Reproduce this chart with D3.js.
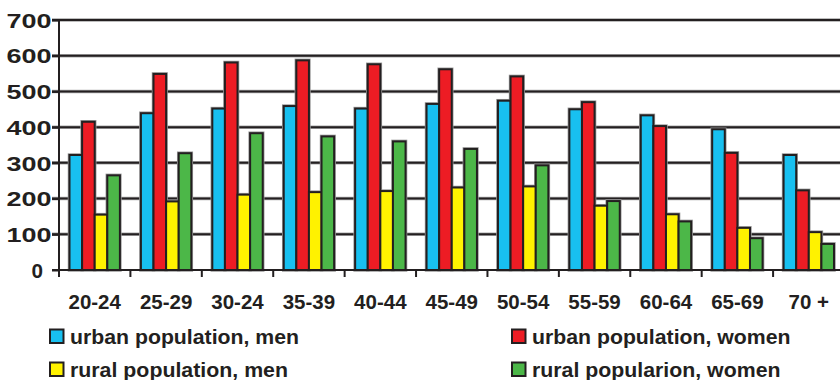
<!DOCTYPE html>
<html>
<head>
<meta charset="utf-8">
<script src="https://cdn.jsdelivr.net/npm/d3@7"></script>
<style>
  html, body { margin: 0; padding: 0; background: #fff; }
  svg { display: block; }
  text { font-family: "Liberation Sans", Arial, sans-serif; font-weight: bold; fill: #231f20; }
</style>
</head>
<body>
<svg id="chart" width="840" height="380"></svg>
<script>
// Age groups along the x axis
const ageGroups = ["20-24", "25-29", "30-24", "35-39", "40-44", "45-49", "50-54", "55-59", "60-64", "65-69", "70 +"];

// Population by age group (thousands)
const urbanMen   = [322, 439, 452, 459, 452, 465, 474, 450, 433, 394, 322];
const urbanWomen = [415, 549, 581, 587, 576, 562, 542, 470, 403, 328, 223];
const ruralMen   = [155, 192, 211, 218, 221, 231, 234, 180, 156, 118, 106];
const ruralWomen = [265, 327, 383, 374, 360, 339, 293, 193, 136, 89, 73];

const seriesNames = ["urban population, men", "urban population, women", "rural population, men", "rural popularion, women"];
const seriesColors = ["#18c0f0", "#ed1c24", "#fff200", "#4cb748"];
const yTicks = [0, 100, 200, 300, 400, 500, 600, 700];

const series = [urbanMen, urbanWomen, ruralMen, ruralWomen].map((vals, i) => ({
  name: seriesNames[i], color: seriesColors[i], values: vals
}));

const svg = d3.select("#chart");
const ink = "#231f20";
const plotLeft = 59, plotRight = 844.5, plotTop = 20, plotBottom = 270;

const x = d3.scaleBand().domain(ageGroups).range([plotLeft, plotRight]).padding(0);
const groupW = 50.4;
const x1 = d3.scaleBand().domain(seriesNames)
  .range([(x.bandwidth() - groupW) / 2, (x.bandwidth() + groupW) / 2]).padding(0);
const y = d3.scaleLinear().domain([0, 700]).range([plotBottom, plotTop]);

// Horizontal gridlines (soft halo under a dark line)
const grid = svg.append("g");
grid.selectAll("line.halo").data(yTicks.filter(d => d > 0)).join("line")
  .attr("class", "halo")
  .attr("x1", plotLeft - 7).attr("x2", 840).attr("y1", d => y(d)).attr("y2", d => y(d))
  .attr("stroke", "#a8a8a8").attr("stroke-width", 3.5);
grid.selectAll("line.main").data(yTicks.filter(d => d > 0)).join("line")
  .attr("class", "main")
  .attr("x1", plotLeft - 7).attr("x2", 840).attr("y1", d => y(d)).attr("y2", d => y(d))
  .attr("stroke", ink).attr("stroke-width", 2);

// Bars
const barData = (d, i) => series.map(s => ({ name: s.name, color: s.color, v: s.values[i] }));
const groups = svg.append("g").selectAll("g").data(ageGroups).join("g")
  .attr("transform", d => `translate(${x(d)},0)`);
groups.selectAll("rect.halo").data(barData).join("rect")
  .attr("class", "halo")
  .attr("x", d => x1(d.name)).attr("width", x1.bandwidth())
  .attr("y", d => y(d.v)).attr("height", d => y(0) - y(d.v))
  .attr("fill", "none").attr("stroke", "#9a9a9a").attr("stroke-width", 3.5);
groups.selectAll("rect.bar").data(barData).join("rect")
  .attr("class", "bar")
  .attr("x", d => x1(d.name)).attr("width", x1.bandwidth())
  .attr("y", d => y(d.v)).attr("height", d => y(0) - y(d.v))
  .attr("fill", d => d.color).attr("stroke", ink).attr("stroke-width", 2);

// Y axis
const yAxis = svg.append("g").attr("transform", `translate(${plotLeft},0)`)
  .call(d3.axisLeft(y).tickValues(yTicks).tickSize(7).tickPadding(8));
yAxis.select(".domain").remove();
yAxis.selectAll(".tick line").attr("stroke", ink).attr("stroke-width", 2);
yAxis.selectAll(".tick text")
  .attr("font-size", 20).attr("fill", ink).attr("dy", "0.36em")
  .attr("x", d => d === 0 ? -16 : -7.5)
  .attr("textLength", d => d === 0 ? 11.5 : 45)
  .attr("lengthAdjust", "spacingAndGlyphs");
yAxis.append("line").attr("x1", 0).attr("x2", 0).attr("y1", plotTop - 1).attr("y2", plotBottom + 7)
  .attr("stroke", ink).attr("stroke-width", 2);

// X axis: baseline, boundary ticks and category labels
const xAxis = svg.append("g");
xAxis.append("line").attr("x1", plotLeft - 7).attr("x2", 840).attr("y1", plotBottom).attr("y2", plotBottom)
  .attr("stroke", ink).attr("stroke-width", 2);
xAxis.selectAll("line.tick").data(ageGroups.slice(1)).join("line")
  .attr("class", "tick")
  .attr("x1", d => x(d)).attr("x2", d => x(d)).attr("y1", plotBottom).attr("y2", plotBottom + 7)
  .attr("stroke", ink).attr("stroke-width", 2);
xAxis.selectAll("text").data(ageGroups).join("text")
  .attr("x", d => x(d) + x.bandwidth() / 2).attr("y", 308.7)
  .attr("text-anchor", "middle").attr("font-size", 20.5).text(d => d);

// Legend
const legendPos = [
  { x: 49, y: 328.5, tl: 229 },
  { x: 511, y: 328.5, tl: 258.5 },
  { x: 49, y: 361.5, tl: 218 },
  { x: 511, y: 361.5, tl: 248.5 }
];
const legend = svg.append("g").selectAll("g").data(series).join("g")
  .attr("transform", (d, i) => `translate(${legendPos[i].x},${legendPos[i].y})`);
legend.append("rect").attr("x", 1).attr("y", 1).attr("width", 13.5).attr("height", 13.5)
  .attr("fill", d => d.color).attr("stroke", ink).attr("stroke-width", 2);
legend.append("text").attr("x", 21).attr("y", 15.8).attr("font-size", 19.5)
  .attr("textLength", (d, i) => legendPos[i].tl).attr("lengthAdjust", "spacingAndGlyphs")
  .text(d => d.name);
</script>
</body>
</html>
